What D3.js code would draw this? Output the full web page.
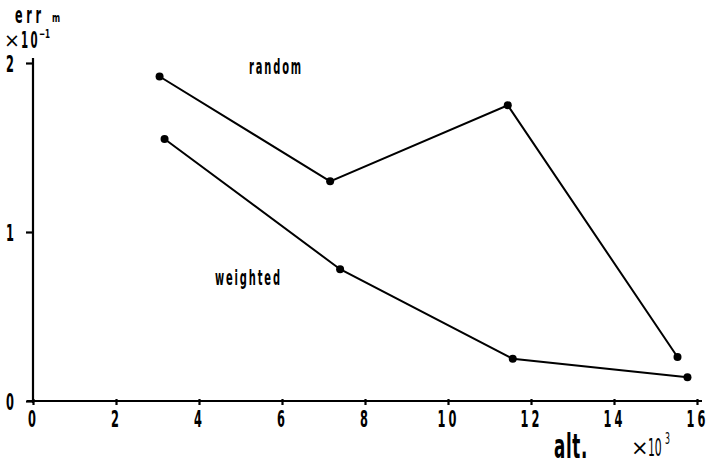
<!DOCTYPE html>
<html>
<head>
<meta charset="utf-8">
<script src="https://cdn.jsdelivr.net/npm/d3@7.9.0/dist/d3.min.js"></script>
<style>
  body { margin: 0; background: #fff; }
  text { font-family: "DejaVu Sans", sans-serif; fill: #000; }
</style>
</head>
<body>
<svg width="709" height="465"></svg>
<script>
const randomX = [3.05, 7.16, 11.44, 15.53];
const randomY = [1.92, 1.30, 1.75, 0.26];
const weightedX = [3.17, 7.40, 11.56, 15.77];
const weightedY = [1.55, 0.78, 0.25, 0.14];
const xTicks = [0, 2, 4, 6, 8, 10, 12, 14, 16];
const yTicks = [0, 1, 2];

const svg = d3.select('svg');
const x = d3.scaleLinear().domain([0, 16]).range([33, 697]);
const y = d3.scaleLinear().domain([0, 2]).range([401, 63]);

// condensed tall lettering like the scanned figure
function label(px, py, sx, sy, size, weight) {
  return svg.append('text')
    .attr('transform', `translate(${px},${py}) scale(${sx},${sy})`)
    .attr('font-size', size).attr('font-weight', weight || 'bold');
}

// axes
const xAxis = svg.append('g')
  .attr('transform', `translate(0,${y(0)})`)
  .call(d3.axisBottom(x).tickValues(xTicks).tickSize(5).tickFormat(d3.format('d')));
xAxis.select('.domain').attr('d', `M${x(0) - 6},0H${x(16) + 5}`);
const yAxis = svg.append('g')
  .attr('transform', `translate(${x(0)},0)`)
  .call(d3.axisLeft(y).tickValues(yTicks).tickSize(7).tickFormat(d3.format('d')));
yAxis.select('.domain').attr('d', `M0,${y(2) - 5}V${y(0) + 2}`);

svg.selectAll('.domain, .tick line').attr('stroke', '#000').attr('stroke-width', 2.2);
xAxis.selectAll('.tick line').attr('y1', -2).attr('y2', 4);
xAxis.selectAll('.tick text')
  .attr('y', 0).attr('dy', 0)
  .attr('transform', 'translate(0,26) scale(0.6,1.25)')
  .attr('font-size', 19).attr('font-weight', 'bold')
  .attr('letter-spacing', 5).attr('fill', '#000');
yAxis.selectAll('.tick text')
  .attr('x', 0).attr('dy', 0)
  .attr('transform', 'translate(-19,8) scale(0.6,1.25)')
  .attr('font-size', 19).attr('font-weight', 'bold').attr('fill', '#000');

// lines + points
const line = d3.line().x(d => x(d[0])).y(d => y(d[1]));
const series = [
  { name: 'random', pts: d3.zip(randomX, randomY) },
  { name: 'weighted', pts: d3.zip(weightedX, weightedY) }
];
series.forEach(s => {
  svg.append('path').attr('d', line(s.pts))
    .attr('fill', 'none').attr('stroke', '#000').attr('stroke-width', 2);
  svg.selectAll(null).data(s.pts).enter().append('circle')
    .attr('cx', d => x(d[0])).attr('cy', d => y(d[1])).attr('r', 4).attr('fill', '#000');
});

// labels
label(249, 74, 0.62, 1.3, 16).attr('letter-spacing', 3).text('random');
label(215, 285, 0.62, 1.3, 16).attr('letter-spacing', 3).text('weighted');

// y-axis title: err_m  ×10^-1
label(15, 23, 0.62, 1.3, 18).attr('letter-spacing', 6).text('err');
label(52, 22, 0.6, 0.95, 13).text('m');
label(4, 47, 1, 1, 19).attr('font-weight', 'normal').text('×');
const ten = label(21, 48, 0.6, 1.3, 17);
ten.append('tspan').text('1');
ten.append('tspan').attr('dx', 4).text('0');
label(39, 38, 0.6, 1.0, 12).text('−1');

// x-axis title
label(554, 458, 0.62, 1.25, 27).attr('letter-spacing', 1).text('alt.');
label(631, 455, 1, 1, 21).attr('font-weight', 'normal').text('×');
label(648, 456, 0.6, 1.35, 18).attr('font-weight', 'normal').text('10');
label(665, 444, 0.6, 1.2, 13).attr('font-weight', 'normal').text('3');
</script>
</body>
</html>
